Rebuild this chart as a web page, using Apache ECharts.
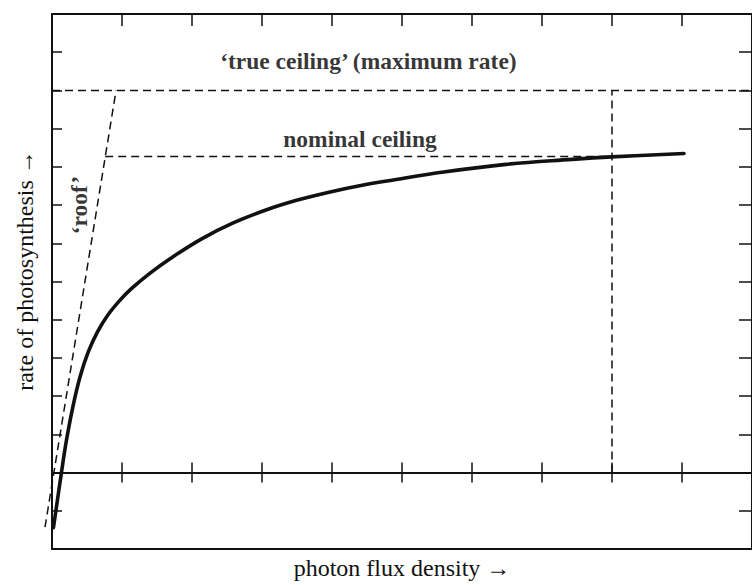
<!DOCTYPE html>
<html>
<head>
<meta charset="utf-8">
<script src="https://cdn.jsdelivr.net/npm/echarts@6/dist/echarts.min.js"></script>
<style>
  html, body { margin: 0; padding: 0; background: #fff; }
  #chart { width: 752px; height: 585px; }
</style>
</head>
<body>
<div id="chart"></div>
<script>
// Light-response curve of photosynthesis, in arbitrary units
// x: photon flux density, y: rate of photosynthesis
const xTickCount = 10;
const yRange = [-2, 12];

// measured response curve
const responseCurve = [
  [0.021, -1.44], [0.134, -0.01], [0.204, 0.818], [0.293, 1.675], [0.401, 2.506],
  [0.518, 3.156], [0.648, 3.675], [0.796, 4.117], [0.969, 4.506], [1.138, 4.818],
  [1.392, 5.208], [1.687, 5.597], [2.138, 6.117], [2.589, 6.532], [3.056, 6.87],
  [3.507, 7.13], [3.958, 7.338], [4.431, 7.519], [4.896, 7.662], [5.563, 7.857],
  [6.486, 8.065], [7.43, 8.195], [7.993, 8.26], [9.028, 8.351]
];

// initial-slope line ('roof')
const roofLine = [[-0.1, -1.43], [0.915, 10]];
// maximum rate ('true ceiling')
const trueCeiling = [[0, 10], [10, 10]];
// nominal ceiling, from the roof to where the curve reaches it
const nominalCeiling = [[0.76, 8.27], [8.0, 8.27]];
// drop line at the nominal-ceiling point
const dropLine = [[8.0, 0], [8.0, 10]];

// annotation text anchored in data coordinates
const annotations = [
  { name: '\u2018true ceiling\u2019 (maximum rate)', value: [4.52, 10.78], rotate: 0 },
  { name: 'nominal ceiling', value: [4.4, 8.72], rotate: 0 },
  { name: '\u2018roof\u2019', value: [0.39, 7.0], rotate: 90 }
];

const xName = 'photon flux density \u2192';
const yName = 'rate of photosynthesis \u2192';

const ink = '#111';
const serif = '"Liberation Serif", "DejaVu Serif", serif';
const dash = [8, 5];

const chart = echarts.init(document.getElementById('chart'), null, { renderer: 'svg' });

const xBase = { type: 'value', min: 0, max: xTickCount, interval: 1,
  splitLine: { show: false }, axisLabel: { show: false } };
const yBase = { type: 'value', min: yRange[0], max: yRange[1], interval: 1,
  splitLine: { show: false }, axisLabel: { show: false } };

// each dashed guide is one [x1, y1, x2, y2] segment
const guideSegments = [roofLine, trueCeiling, nominalCeiling, dropLine]
  .map(seg => [seg[0][0], seg[0][1], seg[1][0], seg[1][1]]);

chart.setOption({
  animation: false,
  backgroundColor: '#fff',
  grid: { left: 52, top: 14, width: 710, height: 540 },
  xAxis: [
    // bottom frame carrying the axis title
    Object.assign({}, xBase, {
      position: 'bottom',
      axisLine: { show: true, onZero: false, lineStyle: { color: ink, width: 2 } },
      axisTick: { show: false },
      name: xName, nameLocation: 'middle', nameGap: 7,
      nameTextStyle: { fontFamily: serif, fontSize: 24, color: ink }
    }),
    // top frame with inward ticks
    Object.assign({}, xBase, {
      position: 'top',
      axisLine: { show: true, onZero: false, lineStyle: { color: ink, width: 2 } },
      axisTick: { show: true, inside: true, length: 12, lineStyle: { color: ink, width: 1.5 } }
    }),
    // zero line, ticks below
    Object.assign({}, xBase, {
      position: 'bottom',
      axisLine: { show: true, onZero: true, onZeroAxisIndex: 0, lineStyle: { color: ink, width: 2 } },
      axisTick: { show: true, inside: false, length: 10, lineStyle: { color: ink, width: 1.5 } }
    }),
    // zero line, ticks above
    Object.assign({}, xBase, {
      position: 'top',
      axisLine: { show: true, onZero: true, onZeroAxisIndex: 0, lineStyle: { color: ink, width: 2 } },
      axisTick: { show: true, inside: false, length: 10, lineStyle: { color: ink, width: 1.5 } }
    })
  ],
  yAxis: [
    Object.assign({}, yBase, {
      position: 'left',
      axisLine: { show: true, onZero: false, lineStyle: { color: ink, width: 2 } },
      axisTick: { show: true, inside: true, length: 10, lineStyle: { color: ink, width: 1.5 } },
      name: yName, nameLocation: 'middle', nameGap: 15,
      nameTextStyle: { fontFamily: serif, fontSize: 24, color: ink, padding: [0, 0, 0, 22] }
    }),
    Object.assign({}, yBase, {
      position: 'right',
      axisLine: { show: true, onZero: false, lineStyle: { color: ink, width: 2 } },
      axisTick: { show: true, inside: true, length: 13, lineStyle: { color: ink, width: 1.5 } }
    })
  ],
  series: [
    {
      // dashed guides; custom series so the roof may run past the left frame
      type: 'custom', silent: true, clip: false,
      data: guideSegments,
      encode: { x: [0, 2], y: [1, 3] },
      renderItem: function (params, api) {
        const p1 = api.coord([api.value(0), api.value(1)]);
        const p2 = api.coord([api.value(2), api.value(3)]);
        return {
          type: 'line',
          shape: { x1: p1[0], y1: p1[1], x2: p2[0], y2: p2[1] },
          style: { stroke: ink, lineWidth: 1.5, lineDash: dash, fill: null }
        };
      }
    },
    {
      type: 'line', data: responseCurve, smooth: 0.4, showSymbol: false,
      silent: true,
      lineStyle: { color: ink, width: 3.6, cap: 'round', join: 'round' }
    },
    {
      type: 'scatter', symbolSize: 0, silent: true,
      data: annotations.map(a => ({
        name: a.name, value: a.value,
        label: { rotate: a.rotate }
      })),
      label: {
        show: true, position: 'inside', formatter: '{b}',
        fontFamily: serif, fontSize: 23.5, fontWeight: 'bold', color: '#000',
        textBorderWidth: 0, textBorderColor: 'transparent', textShadowBlur: 0
      }
    }
  ]
});
</script>
</body>
</html>
